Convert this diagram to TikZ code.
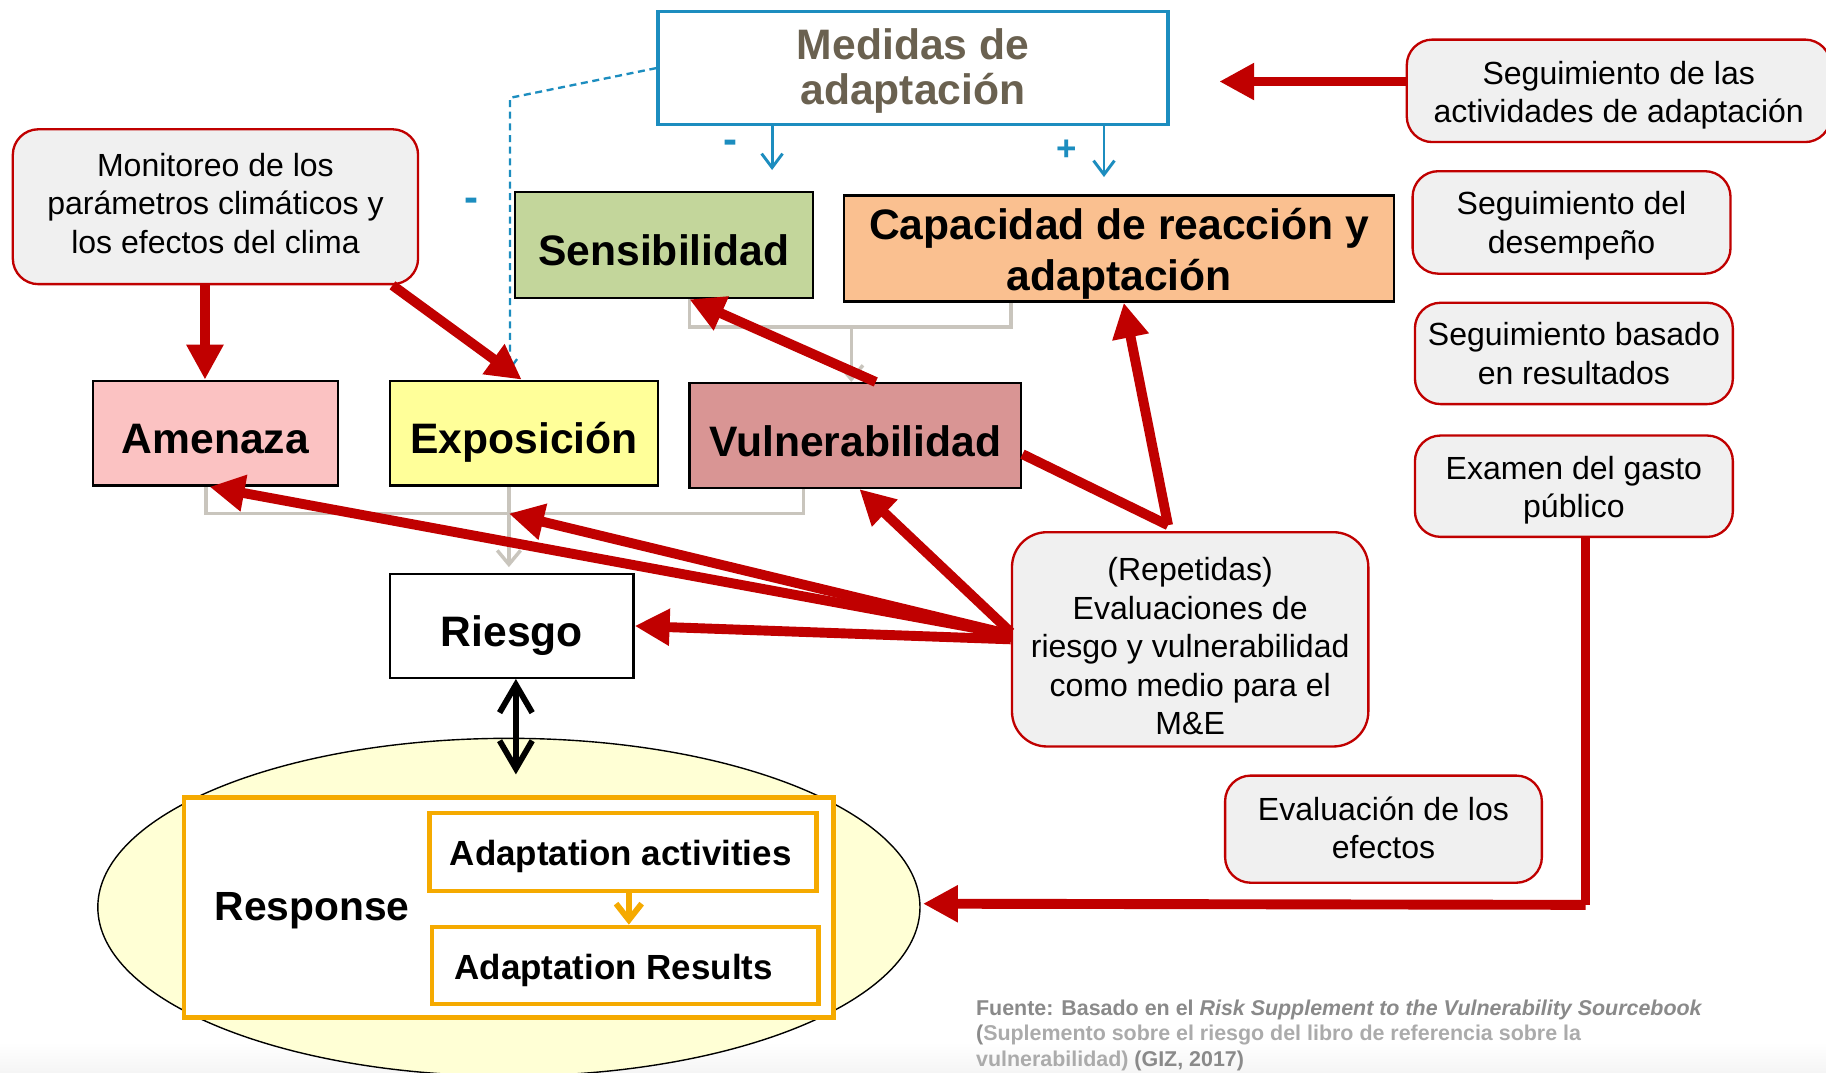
\documentclass[tikz,border=0pt]{standalone}
\usepackage{fontspec}
\setmainfont{Liberation Sans}
\usetikzlibrary{arrows.meta,shapes.geometric,calc}
\definecolor{myred}{HTML}{C00000}
\definecolor{myblue}{HTML}{1C8DBF}
\definecolor{boxgray}{HTML}{F0F0F0}
\definecolor{lgray}{HTML}{C9C5BD}
\definecolor{medtext}{HTML}{6A6150}
\definecolor{cAme}{HTML}{FBC2C2}
\definecolor{cExp}{HTML}{FFFF99}
\definecolor{cVul}{HTML}{D99594}
\definecolor{cSen}{HTML}{C3D69B}
\definecolor{cCap}{HTML}{FAC090}
\definecolor{cEll}{HTML}{FFFFD5}
\definecolor{myorange}{HTML}{F5AA00}
\definecolor{footgray}{HTML}{8A8A8A}
\definecolor{footlight}{HTML}{ABABAB}
\begin{document}
\begin{tikzpicture}[x=1pt,y=-1pt,
  box/.style={draw=black, line width=2pt, inner sep=0pt},
  btxt/.style={inner sep=0pt, align=center, font=\bfseries\fontsize{36.6}{44}\selectfont},
  rbox/.style={draw=myred, fill=boxgray, rounded corners=22pt, line width=2pt, inner sep=0pt},
  rtxt/.style={inner sep=0pt, align=center, font=\fontsize{27.5}{33}\selectfont},
  obox/.style={draw=myorange, line width=4pt, inner sep=0pt, fill=white},
  otxt/.style={inner sep=0pt, font=\bfseries\fontsize{30}{34}\selectfont},
  redarr/.style={draw=myred, line width=8.5pt, -{Triangle[length=30pt,width=30pt]}},
  redline/.style={draw=myred, line width=8.5pt, line join=round},
  grayline/.style={draw=lgray, line width=3pt},
  grayarr/.style={draw=lgray, line width=3pt, -{Straight Barb[length=12pt,width=20pt]}},
  bluearr/.style={draw=myblue, line width=2.5pt, -{Straight Barb[length=12pt,width=18pt]}},
  sign/.style={text=myblue, inner sep=0pt, font=\bfseries\fontsize{36}{38}\selectfont}
]
\useasboundingbox (0,0) rectangle (1568,921);
\fill[white] (0,0) rectangle (1568,921);
\shade[top color=white, bottom color=black!4] (0,895) rectangle (1568,921);

% Ellipse and response
\node[draw=black, line width=1.2pt, fill=cEll, ellipse, inner sep=0pt,
  minimum width=706pt, minimum height=290pt] (ell) at (437,779) {};
\node[obox, minimum width=558pt, minimum height=189pt] (resp) at (437,779.5) {};
\node[inner sep=0pt, font=\bfseries\fontsize{35}{38}\selectfont] (resptxt) at (268,782) {Response};
\node[obox, minimum width=332pt, minimum height=67pt] (act) at (535,731.5) {};
\node[otxt] (acttxt) at (533,735.5) {Adaptation activities};
\node[obox, minimum width=332pt, minimum height=66pt] (res) at (537,829) {};
\node[otxt] (restxt) at (527,833) {Adaptation Results};
\draw[draw=myorange, line width=5pt, -{Straight Barb[length=14pt,width=22pt]}]
  ([xshift=5pt]act.south) -- ([xshift=3pt]res.north);

% Main boxes
\node[draw=myblue, line width=3pt, inner sep=0pt, minimum width=438pt, minimum height=97pt]
  (med) at (784,58.5) {};
\node[btxt, text=medtext, font=\bfseries\fontsize{36.6}{39}\selectfont] (medtxt) at (784,61) {Medidas de\\adaptación};
\node[box, fill=cSen, minimum width=256pt, minimum height=91pt] (sens) at (570,210.5) {};
\node[btxt] (senstxt) at (570,214.5) {Sensibilidad};
\node[box, fill=cCap, minimum width=472pt, minimum height=91pt] (cap) at (961,213.5) {};
\node[btxt] (captxt) at (961,218) {Capacidad de reacción y\\adaptación};
\node[box, fill=cAme, minimum width=210pt, minimum height=90pt] (ame) at (185,372) {};
\node[btxt] (ametxt) at (185,377) {Amenaza};
\node[box, fill=cExp, minimum width=230pt, minimum height=90pt] (expo) at (450,372) {};
\node[btxt] (expotxt) at (450,380) {Exposición};
\node[box, fill=cVul, minimum width=285pt, minimum height=90pt] (vul) at (734.5,374) {};
\node[btxt] (vultxt) at (734.5,379) {Vulnerabilidad};
\node[box, fill=white, minimum width=209pt, minimum height=89pt] (ries) at (439.5,537.5) {};
\node[btxt] (riestxt) at (439.5,545.5) {Riesgo};

% Rounded boxes
\node[rbox, minimum width=348pt, minimum height=133pt] (mon) at (185,177.5) {};
\node[rtxt] (montxt) at (185,174.5) {Monitoreo de los\\parámetros climáticos y\\los efectos del clima};
\node[rbox, rounded corners=30pt, minimum width=306pt, minimum height=184pt] (rep) at (1022,549) {};
\node[rtxt] (reptxt) at (1022,555) {(Repetidas)\\Evaluaciones de\\riesgo y vulnerabilidad\\como medio para el\\M\&E};
\node[rbox, minimum width=364pt, minimum height=88pt] (seg1) at (1390,78) {};
\node[rtxt] (seg1txt) at (1390,82) {Seguimiento de las\\actividades de adaptación};
\node[rbox, minimum width=273pt, minimum height=88pt] (seg2) at (1349.5,191) {};
\node[rtxt] (seg2txt) at (1349.5,194) {Seguimiento del\\desempeño};
\node[rbox, minimum width=273pt, minimum height=87pt] (seg3) at (1351.5,303.5) {};
\node[rtxt] (seg3txt) at (1351.5,303.5) {Seguimiento basado\\en resultados};
\node[rbox, minimum width=273pt, minimum height=87pt] (exam) at (1351.5,417.5) {};
\node[rtxt] (examtxt) at (1351.5,421) {Examen del gasto\\público};
\node[rbox, minimum width=272pt, minimum height=92pt] (efe) at (1188,712) {};
\node[rtxt] (efetxt) at (1188,711) {Evaluación de los\\efectos};

% Signs
\node[sign] (s1) at (405,176) {-};
\node[sign] (s2) at (627,126) {-};
\node[sign, font=\bfseries\fontsize{30}{32}\selectfont] (s3) at (916,129) {+};

% Blue connectors
\coordinate (dc) at (438,84);
\draw[draw=myblue, line width=2pt, dash pattern=on 6pt off 4pt,
  -{Straight Barb[length=8pt,width=12pt]}]
  (med.west) -- (dc) -- ([xshift=-12pt,yshift=8pt]expo.north);
\draw[bluearr] ([xshift=-121pt]med.south) -- ([xshift=93pt,yshift=18pt]sens.north);
\draw[bluearr] ([xshift=164pt]med.south) -- ([xshift=-13pt,yshift=15pt]cap.north);

% Gray connectors
\coordinate (g1) at (731,281);
\draw[grayline] ([xshift=22pt]sens.south) |- (g1) -| ([xshift=-93pt]cap.south);
\draw[grayarr] (g1) -- ([xshift=-3.5pt]vul.north);
\coordinate (g2) at (437,441);
\draw[grayline] ([xshift=-8pt]ame.south) |- (g2) -| ([xshift=-44.5pt]vul.south);
\draw[grayarr] ([xshift=-13pt]expo.south) -- ([xshift=-2.5pt,yshift=5pt]ries.north);

% Black double arrow
\coordinate (dbl) at (443,665);
\draw[line width=5pt, {Straight Barb[length=24pt,width=28pt]}-{Straight Barb[length=24pt,width=28pt]}]
  ([xshift=3.5pt]ries.south) -- (dbl);

% Red arrows
\draw[redarr] ([xshift=-9pt]mon.south) -- ([xshift=-9pt]ame.north);
\draw[redarr] ([xshift=-23pt]mon.south east) -- ([xshift=-2pt]expo.north);
\coordinate (medR) at (1047,70);
\draw[redarr] (seg1.west |- medR) -- (medR);
\draw[redarr] ([xshift=17.5pt]vul.north) -- ([xshift=22pt]sens.south);
\coordinate (apex) at (1003,451);
\draw[redline] ([yshift=-16pt]vul.east) -- (apex);
\draw[redarr] (apex) -- ([xshift=4pt]cap.south);
\draw[redarr] ([yshift=4pt]rep.west) -- ([xshift=-5pt]ame.south);
\draw[redarr] ([yshift=4pt]rep.west) -- (g2);
\draw[redarr] ([yshift=6pt]rep.west) -- ([xshift=3.5pt]vul.south);
\draw[redarr] (rep.west) -- (ries.east);
\draw[redline] ([xshift=10pt]exam.south) -- ++(0,315) coordinate (ecorner);
\draw[redarr] (ecorner) -- ([xshift=2pt,yshift=3pt]ell.east);

% Footer
\node[anchor=west, align=left, text=footgray, inner sep=0pt,
  font=\bfseries\fontsize{18.4}{22}\selectfont] (src) at (838,889)
  {Fuente: Basado en el \textit{Risk Supplement to the Vulnerability Sourcebook}\\
   ({\color{footlight}Suplemento sobre el riesgo del libro de referencia sobre la}\\
   {\color{footlight}vulnerabilidad)} (GIZ, 2017)};
\end{tikzpicture}
\end{document}
